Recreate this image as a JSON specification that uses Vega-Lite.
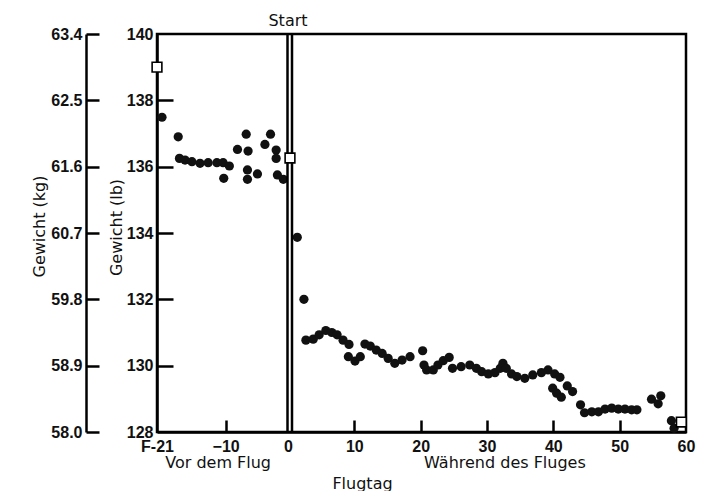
{
  "$schema": "https://vega.github.io/schema/vega-lite/v6.json",
  "width": 529,
  "height": 398,
  "autosize": {"type": "none"},
  "padding": {"left": 157, "top": 34, "right": 34, "bottom": 59},
  "background": "white",
  "config": {
    "view": {"stroke": "black", "strokeWidth": 2.5},
    "axis": {"domainColor": "black", "domainWidth": 2.5, "tickColor": "black", "tickWidth": 2.5, "grid": false,
      "labelFont": "Liberation Sans", "labelFontWeight": "bold", "labelFontSize": 16, "labelColor": "#111",
      "labelOverlap": false, "labelFlush": false,
      "titleFont": "DejaVu Sans", "titleFontWeight": "normal", "titleFontSize": 16, "titleColor": "#111"},
    "text": {"font": "DejaVu Sans", "fontSize": 16, "color": "#111"}
  },
  "datasets": {
    "pts": [
      {"day": -20.2, "lb": 137.49}, {"day": -17.6, "lb": 136.9}, {"day": -17.4, "lb": 136.25}, {"day": -16.5, "lb": 136.2},
      {"day": -15.4, "lb": 136.15}, {"day": -14.1, "lb": 136.1}, {"day": -12.8, "lb": 136.12}, {"day": -11.4, "lb": 136.12},
      {"day": -10.4, "lb": 136.12}, {"day": -9.4, "lb": 136.02}, {"day": -10.3, "lb": 135.65}, {"day": -8.1, "lb": 136.52},
      {"day": -6.7, "lb": 136.98}, {"day": -6.4, "lb": 136.47}, {"day": -6.5, "lb": 135.9}, {"day": -6.5, "lb": 135.62},
      {"day": -4.9, "lb": 135.78}, {"day": -3.7, "lb": 136.67}, {"day": -2.8, "lb": 136.98}, {"day": -1.9, "lb": 136.5},
      {"day": -1.9, "lb": 136.25}, {"day": -1.7, "lb": 135.75}, {"day": -0.75, "lb": 135.62},
      {"day": 1.4, "lb": 133.87}, {"day": 2.4, "lb": 132.0}, {"day": 2.7, "lb": 130.77}, {"day": 3.8, "lb": 130.8},
      {"day": 4.7, "lb": 130.93}, {"day": 5.7, "lb": 131.06}, {"day": 6.6, "lb": 131.0}, {"day": 7.4, "lb": 130.93},
      {"day": 8.3, "lb": 130.77}, {"day": 9.2, "lb": 130.64}, {"day": 9.1, "lb": 130.27}, {"day": 10.1, "lb": 130.14},
      {"day": 10.9, "lb": 130.27}, {"day": 11.6, "lb": 130.65}, {"day": 12.4, "lb": 130.59}, {"day": 13.3, "lb": 130.47},
      {"day": 14.2, "lb": 130.37}, {"day": 15.1, "lb": 130.22}, {"day": 16.1, "lb": 130.07}, {"day": 17.2, "lb": 130.17},
      {"day": 18.4, "lb": 130.27}, {"day": 20.3, "lb": 130.45}, {"day": 20.5, "lb": 130.02}, {"day": 20.9, "lb": 129.87},
      {"day": 21.9, "lb": 129.87}, {"day": 22.6, "lb": 130.02}, {"day": 23.4, "lb": 130.15}, {"day": 24.3, "lb": 130.25},
      {"day": 24.8, "lb": 129.92}, {"day": 26.1, "lb": 129.97}, {"day": 27.4, "lb": 130.02}, {"day": 28.4, "lb": 129.92},
      {"day": 29.2, "lb": 129.82}, {"day": 30.2, "lb": 129.75}, {"day": 31.2, "lb": 129.79}, {"day": 32.0, "lb": 129.92},
      {"day": 32.4, "lb": 130.07}, {"day": 32.9, "lb": 129.92}, {"day": 33.7, "lb": 129.75}, {"day": 34.5, "lb": 129.67},
      {"day": 35.7, "lb": 129.62}, {"day": 36.9, "lb": 129.72}, {"day": 38.2, "lb": 129.79}, {"day": 39.2, "lb": 129.87},
      {"day": 40.2, "lb": 129.75}, {"day": 41.0, "lb": 129.65}, {"day": 39.9, "lb": 129.32}, {"day": 40.5, "lb": 129.17},
      {"day": 41.2, "lb": 129.05}, {"day": 42.1, "lb": 129.39}, {"day": 42.9, "lb": 129.22}, {"day": 44.1, "lb": 128.82},
      {"day": 44.7, "lb": 128.58}, {"day": 45.8, "lb": 128.61}, {"day": 46.8, "lb": 128.61}, {"day": 47.8, "lb": 128.69},
      {"day": 48.8, "lb": 128.72}, {"day": 49.8, "lb": 128.69}, {"day": 50.8, "lb": 128.69}, {"day": 51.8, "lb": 128.67},
      {"day": 52.6, "lb": 128.67}, {"day": 54.8, "lb": 128.99}, {"day": 56.2, "lb": 129.09}, {"day": 55.8, "lb": 128.85},
      {"day": 57.8, "lb": 128.34}, {"day": 58.2, "lb": 128.11}
    ],
    "squares": [
      {"day": -21, "lb": 139.0}, {"day": 0.3, "lb": 136.26}, {"day": 59.3, "lb": 128.3}
    ],
    "notes": [
      {"day": -11.2, "text": "Vor dem Flug"},
      {"day": 32.7, "text": "Während des Fluges"}
    ],
    "start": [{"day": 0, "text": "Start"}]
  },
  "resolve": {"scale": {"y": "shared", "x": "shared"}, "axis": {"y": "independent", "x": "independent"}},
  "layer": [
    {
      "data": {"name": "pts"},
      "mark": {"type": "circle", "size": 85, "color": "#111", "opacity": 1},
      "encoding": {
        "x": {"field": "day", "type": "quantitative",
          "scale": {"domain": [-21, 0, 60], "range": [0, 131, 529], "nice": false, "zero": false},
          "axis": {"orient": "bottom", "values": [-21, -10, 0, 10, 20, 30, 40, 50, 60], "tickSize": 0, "tickOpacity": 0,
            "labelPadding": 6,
            "labelExpr": "datum.value == -21 ? 'F-21' : datum.label",
            "title": "Flugtag", "titleX": 205, "titleY": 51, "titleAlign": "center", "titleBaseline": "middle"}},
        "y": {"field": "lb", "type": "quantitative",
          "scale": {"domain": [128, 140], "nice": false, "zero": false},
          "axis": {"orient": "left", "values": [128, 130, 132, 134, 136, 138, 140], "tickSize": 0, "tickOpacity": 0,
            "labelPadding": 4, "title": "Gewicht (lb)", "titleX": -41, "titleY": 193, "titleAngle": -90,
            "titleAlign": "center", "titleBaseline": "middle"}}
      }
    },
    {
      "data": {"name": "pts"},
      "mark": {"type": "circle", "size": 0, "opacity": 0},
      "encoding": {
        "x": {"field": "day", "type": "quantitative",
          "axis": {"orient": "bottom", "offset": -12, "values": [-10, 10, 20, 30, 40, 50], "tickSize": 12,
            "tickColor": "black", "tickWidth": 2.5,
            "domain": false, "labels": false, "title": null}},
        "y": {"field": "lb", "type": "quantitative",
          "axis": {"orient": "left", "offset": -16, "values": [130, 132, 134, 136, 138], "tickSize": 16,
            "tickColor": "black", "tickWidth": 2.5,
            "domain": false, "labels": false, "title": null}}
      }
    },
    {
      "data": {"name": "pts"},
      "mark": {"type": "circle", "size": 0, "opacity": 0},
      "encoding": {
        "x": {"field": "day", "type": "quantitative", "axis": null},
        "y": {"field": "lb", "type": "quantitative",
          "axis": {"orient": "left", "offset": 71, "values": [128, 130, 132, 134, 136, 138, 140], "tickSize": 0, "tickOpacity": 0,
            "labelPadding": 4,
            "labelExpr": "format(58 + (datum.value - 128) * 0.45, '.1f')",
            "title": "Gewicht (kg)", "titleX": -47, "titleY": 192, "titleAngle": -90,
            "titleAlign": "center", "titleBaseline": "middle"}}
      }
    },
    {
      "data": {"name": "pts"},
      "mark": {"type": "circle", "size": 0, "opacity": 0},
      "encoding": {
        "x": {"field": "day", "type": "quantitative", "axis": null},
        "y": {"field": "lb", "type": "quantitative",
          "axis": {"orient": "left", "offset": 58, "values": [128, 130, 132, 134, 136, 138, 140], "tickSize": 13,
            "tickColor": "black", "tickWidth": 2.5,
            "domain": false, "labels": false, "title": null}}
      }
    },
    {
      "data": {"name": "start"},
      "mark": {"type": "rule", "color": "black", "strokeWidth": 2.5, "xOffset": -0.5},
      "encoding": {"x": {"field": "day", "type": "quantitative", "axis": null}}
    },
    {
      "data": {"name": "start"},
      "mark": {"type": "rule", "color": "black", "strokeWidth": 2.5, "xOffset": 4},
      "encoding": {"x": {"field": "day", "type": "quantitative", "axis": null}}
    },
    {
      "data": {"name": "squares"},
      "mark": {"type": "square", "size": 95, "fill": "white", "stroke": "black", "strokeWidth": 1.6, "opacity": 1, "filled": true},
      "encoding": {
        "x": {"field": "day", "type": "quantitative", "axis": null},
        "y": {"field": "lb", "type": "quantitative", "axis": null}
      }
    },
    {
      "data": {"name": "start"},
      "mark": {"type": "text", "y": 0, "dy": -13, "baseline": "middle", "align": "center"},
      "encoding": {"x": {"field": "day", "type": "quantitative", "axis": null}, "text": {"field": "text"}}
    },
    {
      "data": {"name": "notes"},
      "mark": {"type": "text", "y": {"expr": "height"}, "dy": 31, "baseline": "middle", "align": "center"},
      "encoding": {"x": {"field": "day", "type": "quantitative", "axis": null}, "text": {"field": "text"}}
    }
  ]
}
